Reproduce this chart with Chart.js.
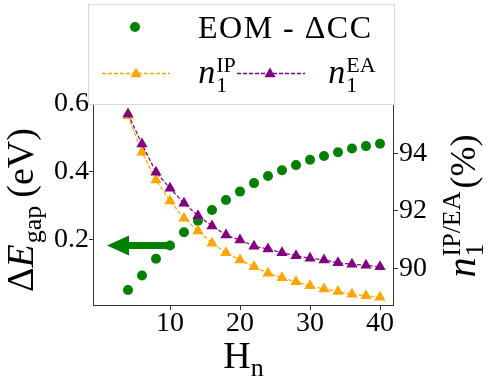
<!DOCTYPE html>
<html>
<head>
<meta charset="utf-8">
<script src="https://cdn.jsdelivr.net/npm/chart.js@4.4.0/dist/chart.umd.min.js"></script>
<style>
  html, body { margin: 0; padding: 0; background: #fff; }
</style>
</head>
<body>
<canvas id="chart" width="490" height="382"></canvas>
<script>
const hn = [4, 6, 8, 10, 12, 14, 16, 18, 20, 22, 24, 26, 28, 30, 32, 34, 36, 38, 40];
const gapEV = [0.052, 0.095, 0.144, 0.183, 0.222, 0.256, 0.288, 0.317, 0.342, 0.367,
  0.388, 0.405, 0.420, 0.436, 0.447, 0.458, 0.469, 0.476, 0.483];
const nIP = [95.30, 94.03, 93.07, 92.34, 91.74, 91.30, 90.87, 90.54, 90.29, 90.05,
  89.83, 89.67, 89.53, 89.39, 89.28, 89.19, 89.10, 89.05, 88.99];
const nEA = [95.36, 94.32, 93.34, 92.78, 92.26, 91.83, 91.47, 91.16, 90.98, 90.77,
  90.67, 90.54, 90.44, 90.35, 90.29, 90.19, 90.14, 90.11, 90.05];
const xTicks = [10, 20, 30, 40];
const gapTicks = [0.2, 0.4, 0.6];
const pctTicks = [90, 92, 94];
const arrowFrom = [10, 0.183];
const arrowTo = [1, 0.183];

const SERIF = "'Liberation Serif', 'DejaVu Serif', serif";
const AXIS = "#333";

function pts(ys) {
  return hn.map((x, i) => ({ x: x, y: ys[i] }));
}

function fontOf(p) {
  return (p.it ? "italic " : "") + p.size + "px " + SERIF;
}

// draws a run of text pieces centred on cx, baseline by.
// a piece may carry sub / sup pieces stacked after it
function drawRich(ctx, pieces, cx, by) {
  const adv = (p) => {
    ctx.font = fontOf(p);
    let w = ctx.measureText(p.t).width + (p.gap || 0);
    let s = 0;
    for (const k of ["sub", "sup"]) {
      if (p[k]) {
        ctx.font = fontOf(p[k]);
        s = Math.max(s, ctx.measureText(p[k].t).width + (p[k].gap || 0));
      }
    }
    return w + s;
  };
  let total = 0;
  for (const p of pieces) total += adv(p);
  let x = cx - total / 2;
  for (const p of pieces) {
    ctx.font = fontOf(p);
    ctx.fillText(p.t, x, by + (p.dy || 0));
    const bx = x + ctx.measureText(p.t).width + (p.gap || 0);
    for (const k of ["sub", "sup"]) {
      if (p[k]) {
        ctx.font = fontOf(p[k]);
        ctx.fillText(p[k].t, bx, by + p[k].dy);
      }
    }
    x += adv(p);
  }
}

const decor = {
  id: "decor",
  afterDatasetsDraw(chart) {
    const ctx = chart.ctx;
    const sx = chart.scales.x, sy = chart.scales.y;
    // arrow
    const x0 = sx.getPixelForValue(arrowFrom[0]), y0 = sy.getPixelForValue(arrowFrom[1]);
    const x1 = sx.getPixelForValue(arrowTo[0]);
    ctx.save();
    ctx.strokeStyle = "green";
    ctx.fillStyle = "green";
    ctx.lineWidth = 7;
    ctx.lineCap = "round";
    ctx.beginPath();
    ctx.moveTo(x0, y0);
    ctx.lineTo(x1 + 18, y0);
    ctx.stroke();
    ctx.beginPath();
    ctx.moveTo(x1, y0);
    ctx.lineTo(x1 + 22, y0 - 10);
    ctx.lineTo(x1 + 22, y0 + 10);
    ctx.closePath();
    ctx.fill();
    ctx.restore();
  },
  afterDraw(chart) {
    const ctx = chart.ctx;
    const a = chart.chartArea;
    ctx.save();
    // frame
    ctx.strokeStyle = AXIS;
    ctx.lineWidth = 1;
    ctx.strokeRect(Math.round(a.left) + 0.5, Math.round(a.top) + 0.5,
      Math.round(a.right - a.left) - 1, Math.round(a.bottom - a.top) - 1);

    ctx.fillStyle = "#000";
    ctx.textBaseline = "alphabetic";
    ctx.textAlign = "left";

    // x title
    drawRich(ctx, [
      { t: "H", size: 38, sub: { t: "n", size: 26, dy: 8 } }
    ], (a.left + a.right) / 2, 368);

    // left title
    ctx.save();
    ctx.translate(33, (a.top + a.bottom) / 2 + 5);
    ctx.rotate(-Math.PI / 2);
    drawRich(ctx, [
      { t: "\u0394", size: 38 },
      { t: "E", size: 38, it: true, gap: 1, sub: { t: "gap", size: 26, dy: 8, gap: 8 } },
      { t: "(eV)", size: 38 }
    ], 0, 0);
    ctx.restore();

    // right title
    ctx.save();
    ctx.translate(475, (a.top + a.bottom) / 2 + 1);
    ctx.rotate(-Math.PI / 2);
    drawRich(ctx, [
      { t: "n", size: 40, it: true, gap: 1,
        sub: { t: "1", size: 26, dy: 8 },
        sup: { t: "IP/EA", size: 26, dy: -15, gap: 3 } },
      { t: "(%)", size: 36 }
    ], 0, 0);
    ctx.restore();

    // legend
    ctx.fillStyle = "#fff";
    ctx.fillRect(88, 4, 307, 100);
    ctx.strokeStyle = "#d9d9d9";
    ctx.strokeRect(88.5, 4.5, 306, 100);

    ctx.fillStyle = "green";
    ctx.beginPath();
    ctx.arc(135, 27, 5, 0, Math.PI * 2);
    ctx.fill();
    ctx.fillStyle = "#000";
    ctx.font = "32px " + SERIF;
    ctx.letterSpacing = "1.5px";
    ctx.fillText("EOM - \u0394CC", 198, 38);
    ctx.letterSpacing = "0px";

    const rows = [[102, 170, 136, "#FFA500"], [237, 305, 270, "#800080"]];
    for (const r of rows) {
      ctx.strokeStyle = r[3];
      ctx.lineWidth = 1.3;
      ctx.setLineDash([4, 2]);
      ctx.beginPath();
      ctx.moveTo(r[0], 73.5);
      ctx.lineTo(r[1], 73.5);
      ctx.stroke();
      ctx.setLineDash([]);
      ctx.fillStyle = r[3];
      Chart.helpers.drawPoint(ctx, { pointStyle: "triangle", radius: 6.5, borderWidth: 0 }, r[2], 74);
    }
    ctx.fillStyle = "#000";
    const labs = [[197, "IP"], [332, "EA"]];
    for (const l of labs) {
      drawRich(ctx, [
        { t: "n", size: 34, it: true, gap: 1,
          sub: { t: "1", size: 22, dy: 9 },
          sup: { t: l[1], size: 22, dy: -11 } }
      ], l[0] + 20, 83);
    }
    ctx.restore();
  }
};

function fixTicks(list) {
  return (s) => { s.ticks = list.map(v => ({ value: v })); };
}

const tickFont = { family: SERIF, size: 28 };

new Chart(document.getElementById("chart"), {
  type: "scatter",
  data: {
    datasets: [
      {
        label: "EOM - \u0394CC",
        data: pts(gapEV),
        yAxisID: "y",
        backgroundColor: "#008000",
        pointRadius: 5,
        pointBorderWidth: 0,
        showLine: false,
        order: 2
      },
      {
        label: "n1 IP",
        data: pts(nIP),
        yAxisID: "y2",
        borderColor: "#FFA500",
        backgroundColor: "#FFA500",
        pointStyle: "triangle",
        pointRadius: 6.5,
        pointBorderWidth: 0,
        showLine: true,
        borderWidth: 1.2,
        borderDash: [4, 2],
        order: 1
      },
      {
        label: "n1 EA",
        data: pts(nEA),
        yAxisID: "y2",
        borderColor: "#800080",
        backgroundColor: "#800080",
        pointStyle: "triangle",
        pointRadius: 6.5,
        pointBorderWidth: 0,
        showLine: true,
        borderWidth: 1.2,
        borderDash: [4, 2],
        order: 0
      }
    ]
  },
  options: {
    responsive: false,
    animation: false,
    events: [],
    layout: { padding: { top: 104, left: 0, right: 0, bottom: 0 } },
    plugins: { legend: { display: false }, tooltip: { enabled: false } },
    scales: {
      x: {
        type: "linear",
        position: "bottom",
        min: -1,
        max: 42,
        afterBuildTicks: fixTicks(xTicks),
        afterFit: (s) => { s.height = 76; },
        border: { display: false },
        grid: { drawOnChartArea: false, drawTicks: true, tickLength: 4, color: AXIS },
        ticks: { font: tickFont, color: "#000", padding: -3, maxRotation: 0 }
      },
      y: {
        type: "linear",
        position: "left",
        min: 0.005,
        max: 0.6,
        afterBuildTicks: fixTicks(gapTicks),
        afterFit: (s) => { s.width = 93; },
        border: { display: false },
        grid: { drawOnChartArea: false, drawTicks: true, tickLength: 4, color: AXIS },
        ticks: { font: tickFont, color: "#000", padding: 0, callback: (v) => v.toFixed(1) }
      },
      y2: {
        type: "linear",
        position: "right",
        min: 88.69,
        max: 95.71,
        afterBuildTicks: fixTicks(pctTicks),
        afterFit: (s) => { s.width = 96; },
        border: { display: false },
        grid: { drawOnChartArea: false, drawTicks: true, tickLength: 4, color: AXIS },
        ticks: { font: tickFont, color: "#000", padding: 1, callback: (v) => String(v) }
      }
    }
  },
  plugins: [decor]
});
</script>
</body>
</html>
